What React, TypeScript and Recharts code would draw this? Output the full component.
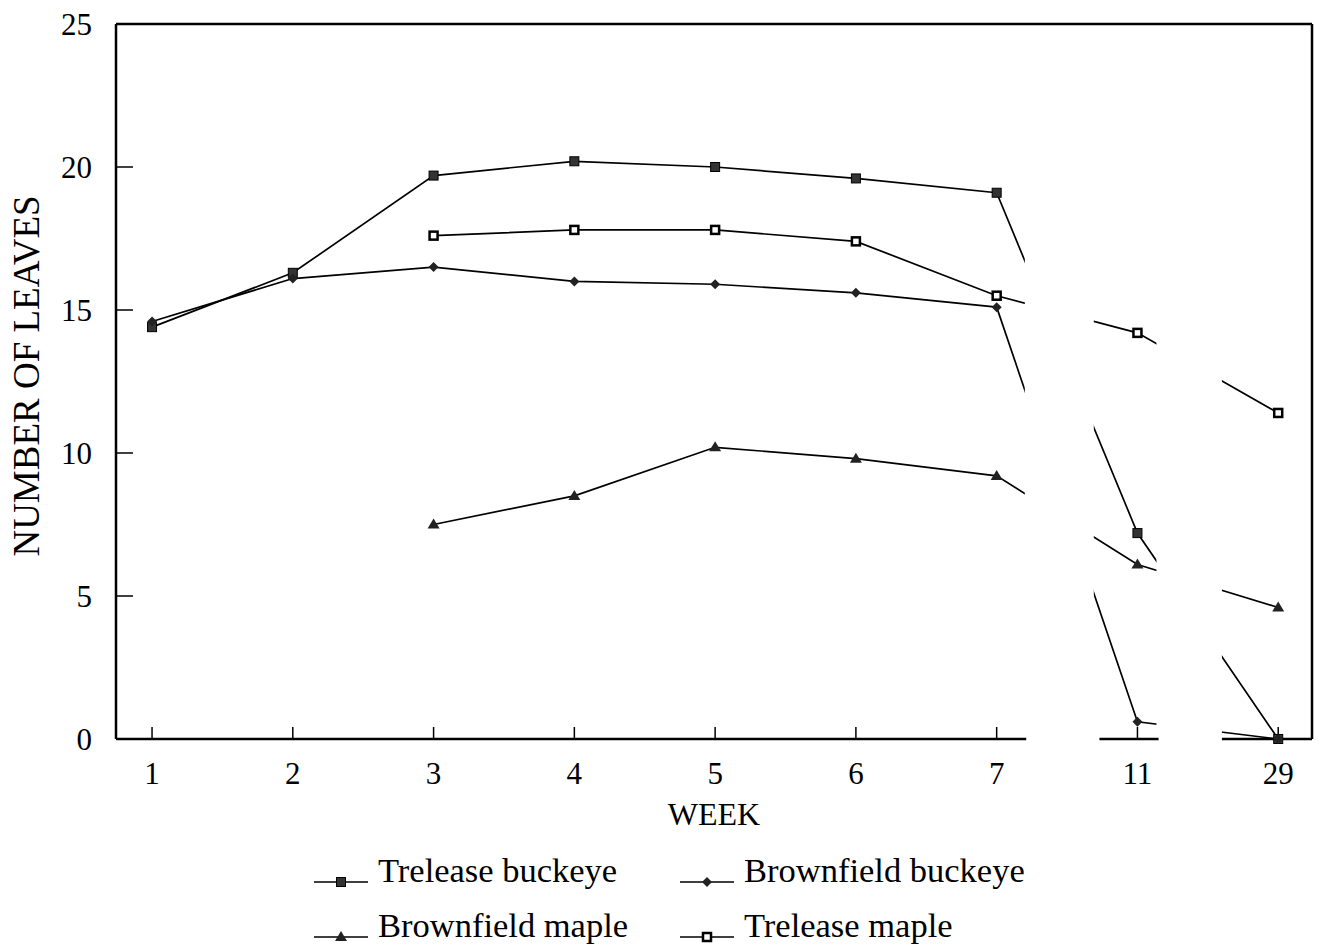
import { LineChart, Line, XAxis, YAxis, ReferenceArea, ReferenceLine } from 'recharts';

const WEEKS = ['1', '2', '3', '4', '5', '6', '7', '11', '29'];
const Y_TICKS = [0, 5, 10, 15, 20, 25];

const TRELEASE_BUCKEYE = [14.4, 16.3, 19.7, 20.2, 20.0, 19.6, 19.1, 7.2, 0];
const BROWNFIELD_BUCKEYE = [14.6, 16.1, 16.5, 16.0, 15.9, 15.6, 15.1, 0.6, 0];
const BROWNFIELD_MAPLE = [null, null, 7.5, 8.5, 10.2, 9.8, 9.2, 6.1, 4.6];
const TRELEASE_MAPLE = [null, null, 17.6, 17.8, 17.8, 17.4, 15.5, 14.2, 11.4];

// axis breaks between week 7 / 11 and 11 / 29 (in category index units)
const BREAKS = [
  [6.2, 6.69],
  [7.135, 7.6],
];
const X_DOMAIN: [number, number] = [-0.256, 8.24];
const AXIS_SEGMENTS = [
  [-0.256, 6.21],
  [6.73, 7.15],
  [7.6, 8.24],
];

type Shape = 'square' | 'openSquare' | 'diamond' | 'triangle';

const SERIES: { key: string; name: string; values: (number | null)[]; shape: Shape }[] = [
  { key: 'trelBuckeye', name: 'Trelease buckeye', values: TRELEASE_BUCKEYE, shape: 'square' },
  { key: 'brownBuckeye', name: 'Brownfield buckeye', values: BROWNFIELD_BUCKEYE, shape: 'diamond' },
  { key: 'brownMaple', name: 'Brownfield maple', values: BROWNFIELD_MAPLE, shape: 'triangle' },
  { key: 'trelMaple', name: 'Trelease maple', values: TRELEASE_MAPLE, shape: 'openSquare' },
];

const data = WEEKS.map((week, i) => {
  const row: Record<string, number | string | null> = { idx: i, week };
  SERIES.forEach((s) => {
    row[s.key] = s.values[i];
  });
  return row;
});

const FONT = '"Liberation Serif", "Times New Roman", serif';

const Marker = ({ cx, cy, shape }: { cx?: number; cy?: number; shape: Shape }) => {
  if (cx == null || cy == null || isNaN(cx) || isNaN(cy)) return null;
  switch (shape) {
    case 'square':
      return <rect x={cx - 4.5} y={cy - 4.5} width={9} height={9} fill="#333" stroke="#000" strokeWidth={1} />;
    case 'openSquare':
      return <rect x={cx - 4} y={cy - 4} width={8} height={8} fill="#fff" stroke="#000" strokeWidth={2.5} />;
    case 'diamond':
      return <path d={`M${cx},${cy - 5} L${cx + 5},${cy} L${cx},${cy + 5} L${cx - 5},${cy} Z`} fill="#222" />;
    case 'triangle':
      return <path d={`M${cx},${cy - 6} L${cx + 6},${cy + 4} L${cx - 6},${cy + 4} Z`} fill="#222" />;
  }
  return null;
};

const LEGEND_POS = [
  { x: 314, y: 882 },
  { x: 680, y: 882 },
  { x: 314, y: 937 },
  { x: 680, y: 937 },
];

const App = () => {
  return (
    <div style={{ position: 'absolute', left: 0, top: 0, width: 1319, height: 946, background: '#fff' }}>
      <LineChart width={1319} height={946} data={data} margin={{ top: 24, right: 7, left: 0, bottom: 0 }}>
        <XAxis
          dataKey="idx"
          type="number"
          domain={X_DOMAIN}
          ticks={[0, 1, 2, 3, 4, 5, 6, 7, 8]}
          tickFormatter={(v: number) => WEEKS[v]}
          interval={0}
          height={207}
          axisLine={false}
          tickSize={-12}
          tickMargin={35}
          tickLine={{ stroke: '#000', strokeWidth: 1.5 }}
          tick={{ fill: '#000', fontSize: 31, fontFamily: FONT }}
          label={{
            content: () => (
              <text x={714} y={825} textAnchor="middle" fontFamily={FONT} fontSize={32} fill="#000">
                WEEK
              </text>
            ),
          }}
        />
        <YAxis
          type="number"
          domain={[0, 25]}
          ticks={Y_TICKS}
          interval={0}
          width={116}
          axisLine={{ stroke: '#000', strokeWidth: 2.5 }}
          tickSize={-17}
          tickMargin={41}
          tickLine={{ stroke: '#000', strokeWidth: 1.5 }}
          tick={{ fill: '#000', fontSize: 31, fontFamily: FONT }}
          label={{
            content: () => (
              <text
                x={26}
                y={376}
                transform="rotate(-90 26 376)"
                textAnchor="middle"
                dominantBaseline="central"
                fontFamily={FONT}
                fontSize={37}
                fill="#000"
              >
                NUMBER OF LEAVES
              </text>
            ),
          }}
        />
        {SERIES.map((s) => (
          <Line
            key={s.key}
            dataKey={s.key}
            name={s.name}
            stroke="#000"
            strokeWidth={1.7}
            isAnimationActive={false}
            dot={(p: any) => <Marker key={`${s.key}-${p.index}`} cx={p.cx} cy={p.cy} shape={s.shape} />}
            activeDot={false}
          />
        ))}
        {BREAKS.map(([a, b], i) => (
          <ReferenceArea
            key={`brk-${i}`}
            x1={a}
            x2={b}
            y1={0.05}
            y2={24.9}
            fill="#fff"
            fillOpacity={1}
            stroke="none"
            zIndex={450}
          />
        ))}
        {AXIS_SEGMENTS.map(([a, b], i) => (
          <ReferenceLine
            key={`ax-${i}`}
            segment={[
              { x: a, y: 0 },
              { x: b, y: 0 },
            ]}
            stroke="#000"
            strokeWidth={2.5}
            zIndex={460}
          />
        ))}
        <ReferenceLine y={25} stroke="#000" strokeWidth={2.5} zIndex={460} />
        <ReferenceLine x={X_DOMAIN[1]} stroke="#000" strokeWidth={2.5} zIndex={460} />
      </LineChart>
      <svg width={1319} height={946} style={{ position: 'absolute', left: 0, top: 0, pointerEvents: 'none' }}>
        {SERIES.map((s, i) => {
          const pos = LEGEND_POS[i];
          return (
            <g key={s.key}>
              <line x1={pos.x} y1={pos.y} x2={pos.x + 54} y2={pos.y} stroke="#000" strokeWidth={1.6} />
              <Marker cx={pos.x + 27} cy={pos.y} shape={s.shape} />
              <text x={pos.x + 64} y={pos.y} fontFamily={FONT} fontSize={34.5} fill="#000">
                {s.name}
              </text>
            </g>
          );
        })}
      </svg>
    </div>
  );
};

export default App;
